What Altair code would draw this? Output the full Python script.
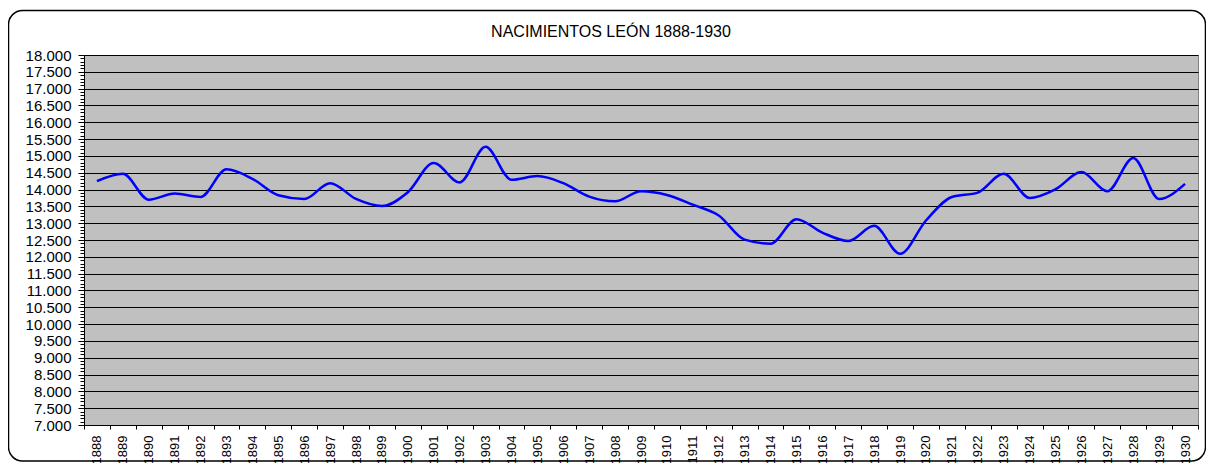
import altair as alt
import pandas as pd

years = list(range(1888, 1931))
births = [14250, 14470, 13700, 13880, 13780, 14600, 14320, 13830, 13720, 14190,
          13720, 13510, 13920, 14790, 14210, 15270, 14290, 14400, 14190, 13790,
          13650, 13950, 13840, 13550, 13230, 12510, 12390, 13120, 12720, 12470,
          12920, 12090, 13080, 13780, 13910, 14470, 13750, 14010, 14520, 13950,
          14940, 13720, 14170]
y_ticks = list(range(7000, 18001, 100))
title_text = ["NACIMIENTOS LEÓN 1888-1930"]

df = pd.DataFrame({"year": years, "births": births})
FONT = "Liberation Sans"
is_major = "datum.value % 500 === 0"

line = alt.Chart(df).mark_line(
    color="#0000FF", strokeWidth=2.5, interpolate="monotone"
).encode(
    x=alt.X(
        "year:O",
        bandPosition=0.5,
        scale=alt.Scale(type="band", paddingInner=0, paddingOuter=0),
        axis=alt.Axis(
            title=None, labelAngle=270, labelFontSize=13, labelFont=FONT,
            labelColor="black", tickBand="extent", tickSize=4, tickColor="black",
            domainColor="black", labelPadding=6, grid=False,
        ),
    ),
    y=alt.Y(
        "births:Q",
        scale=alt.Scale(domain=[7000, 18000], nice=False, zero=False),
        axis=alt.Axis(
            title=None, values=y_ticks, labelOverlap=False,
            labelExpr=f"{is_major} ? replace(format(datum.value, ','), ',', '.') : ''",
            labelFontSize=15, labelFont=FONT, labelColor="black", labelPadding=7,
            grid=True, gridColor="black", gridWidth=1,
            gridOpacity={"condition": {"test": is_major, "value": 1}, "value": 0},
            tickSize={"condition": {"test": is_major, "value": 6}, "value": 4},
            tickColor="black", domainColor="black",
        ),
    ),
)

frame = alt.Chart(pd.DataFrame({"f": [0]})).mark_rect(
    fill=None, stroke="black", strokeWidth=1.5, cornerRadius=14
).encode(
    x=alt.value(-75.5), x2=alt.value(1121.5), y=alt.value(-44.5), y2=alt.value(406)
)

title = alt.Chart(pd.DataFrame({"t": title_text})).mark_text(
    font=FONT, fontSize=16, color="black", align="center", baseline="middle"
).encode(
    text="t:N", x=alt.value(527), y=alt.value(-23)
)

chart = alt.layer(line, frame, title).properties(
    width=1114,
    height=370,
    autosize="none",
    padding={"left": 76, "top": 47, "right": 8, "bottom": 38},
    background="white",
).configure_view(
    fill="#C0C0C0", stroke="#808080", strokeWidth=1
)

chart.save("out.html", embed_options={"renderer": "svg", "actions": False})
